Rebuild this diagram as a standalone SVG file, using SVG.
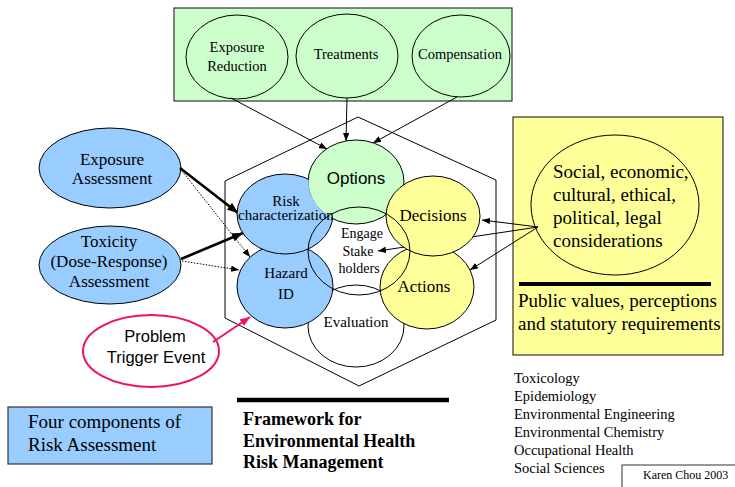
<svg xmlns="http://www.w3.org/2000/svg" width="735" height="487" viewBox="0 0 735 487">
<style>
.s{font-family:"Liberation Serif","Times New Roman",serif;fill:#000}
.a{font-family:"Liberation Sans",Arial,sans-serif;fill:#000}
.m{text-anchor:middle}
.ol{stroke:#000;stroke-width:1}
.box{stroke:#333;stroke-width:1.2}
.ln{stroke:#000;stroke-width:1;fill:none}
.thk{stroke:#000;stroke-width:2.6;fill:none}
.dot{stroke:#000;stroke-width:1;stroke-dasharray:1.5 1.5;fill:none}
.blue{fill:#99ccff}
.green{fill:#ccffcc}
.yel{fill:#ffff99}
</style>
<defs>
<marker id="ah" viewBox="0 0 10 8" refX="10" refY="4" markerWidth="8" markerHeight="6.4" markerUnits="userSpaceOnUse" orient="auto"><path d="M0,0 L10,4 L0,8 z" fill="#000"/></marker>
<marker id="ahb" viewBox="0 0 10 8" refX="10" refY="4" markerWidth="11" markerHeight="8.8" markerUnits="userSpaceOnUse" orient="auto"><path d="M0,0 L10,4 L0,8 z" fill="#000"/></marker>
<marker id="ahp" viewBox="0 0 10 8" refX="10" refY="4" markerWidth="10" markerHeight="8" markerUnits="userSpaceOnUse" orient="auto"><path d="M0,0 L10,4 L0,8 z" fill="#ee1166"/></marker>
<mask id="notOptions" maskUnits="userSpaceOnUse" x="0" y="0" width="735" height="487">
<rect x="0" y="0" width="735" height="487" fill="#fff"/>
<ellipse cx="356" cy="182" rx="47.4" ry="41.4" fill="#000"/>
</mask>
</defs>
<rect width="735" height="487" fill="#fff"/>

<g id="options-box">
<rect class="green box" x="174" y="8" width="338" height="93"/>
<g id="exposure-reduction">
<ellipse class="green ol" cx="237" cy="57" rx="51" ry="42"/>
<text class="s m" x="237" y="52" font-size="14.5">Exposure</text>
<text class="s m" x="237" y="71" font-size="14.5">Reduction</text>
</g>
<g id="treatments">
<ellipse class="green ol" cx="347" cy="56" rx="51" ry="42"/>
<text class="s m" x="346" y="59" font-size="14.5">Treatments</text>
</g>
<g id="compensation">
<ellipse class="green ol" cx="461" cy="56" rx="49" ry="41"/>
<text class="s m" x="460" y="59" font-size="14.5">Compensation</text>
</g>
</g>

<g id="public-values">
<rect class="yel box" x="513" y="117" width="210" height="238"/>
<g id="considerations">
<ellipse class="yel ol" cx="615" cy="205" rx="84" ry="70"/>
<text class="s" x="553" y="178" font-size="19">Social, economic,</text>
<text class="s" x="553" y="201" font-size="19">cultural, ethical,</text>
<text class="s" x="553" y="224" font-size="19">political, legal</text>
<text class="s" x="553" y="247" font-size="19">considerations</text>
</g>
<line x1="519" y1="284" x2="711" y2="284" stroke="#000" stroke-width="4"/>
<text class="s" x="518" y="307" font-size="19">Public values, perceptions</text>
<text class="s" x="518" y="330" font-size="19">and statutory requirements</text>
</g>

<g id="exposure-assessment">
<ellipse class="blue ol" cx="110" cy="168" rx="71" ry="40"/>
<text class="s m" x="112" y="165" font-size="17">Exposure</text>
<text class="s m" x="112" y="184" font-size="17">Assessment</text>
</g>
<g id="toxicity-assessment">
<ellipse class="blue ol" cx="110" cy="265" rx="71" ry="39"/>
<text class="s m" x="109" y="247" font-size="17">Toxicity</text>
<text class="s m" x="109" y="267" font-size="17">(Dose-Response)</text>
<text class="s m" x="109" y="287" font-size="17">Assessment</text>
</g>
<g id="problem-trigger">
<ellipse cx="151" cy="351" rx="68" ry="36" fill="#fff" stroke="#ee1166" stroke-width="2"/>
<text class="a m" x="155" y="342" font-size="16.5">Problem</text>
<text class="a m" x="156" y="363" font-size="16.5">Trigger Event</text>
</g>

<g id="four-components">
<rect class="blue box" x="8" y="407" width="204" height="57"/>
<text class="s" x="28" y="428" font-size="19">Four components of</text>
<text class="s" x="28" y="451" font-size="19">Risk Assessment</text>
</g>

<g id="title">
<line x1="237" y1="400" x2="449" y2="400" stroke="#000" stroke-width="4.5"/>
<text class="s" x="243" y="425" font-size="18" font-weight="bold">Framework for</text>
<text class="s" x="243" y="447" font-size="18" font-weight="bold">Environmental Health</text>
<text class="s" x="243" y="468" font-size="18" font-weight="bold">Risk Management</text>
</g>

<g id="disciplines">
<text class="s" x="514" y="383" font-size="14.5">Toxicology</text>
<text class="s" x="514" y="401" font-size="14.5">Epidemiology</text>
<text class="s" x="514" y="419" font-size="14.5">Environmental Engineering</text>
<text class="s" x="514" y="437" font-size="14.5">Environmental Chemistry</text>
<text class="s" x="514" y="455" font-size="14.5">Occupational Health</text>
<text class="s" x="514" y="473" font-size="14.5">Social Sciences</text>
</g>

<g id="credit">
<rect x="622" y="465" width="120" height="30" fill="none" stroke="#333" stroke-width="1"/>
<text class="s" x="643" y="479" font-size="12">Karen Chou 2003</text>
</g>

<g id="hexagon">
<polygon points="358,117 496,180 496,320 359,386 225,318 225,181" fill="none" stroke="#000" stroke-width="1"/>
</g>

<g id="connectors">
<line class="ln" x1="231" y1="98" x2="327" y2="149" marker-end="url(#ah)"/>
<line class="ln" x1="347" y1="98" x2="346" y2="141" marker-end="url(#ah)"/>
<line class="ln" x1="457" y1="97" x2="373" y2="143" marker-end="url(#ah)"/>
<line class="thk" x1="180" y1="168" x2="238" y2="213" marker-end="url(#ahb)"/>
<line class="thk" x1="181" y1="259" x2="243" y2="233" marker-end="url(#ahb)"/>
<line class="dot" x1="182" y1="171" x2="250" y2="257" marker-end="url(#ah)"/>
<line class="dot" x1="182" y1="261" x2="239" y2="270" marker-end="url(#ah)"/>
<line x1="213" y1="342" x2="250" y2="317" stroke="#ee1166" stroke-width="2" marker-end="url(#ahp)"/>
<line class="ln" x1="538" y1="227" x2="482" y2="220" marker-end="url(#ah)"/>
<line class="ln" x1="538" y1="227" x2="378" y2="251" marker-end="url(#ah)"/>
<line class="ln" x1="538" y1="227" x2="470" y2="270" marker-end="url(#ah)"/>
</g>

<g id="evaluation">
<ellipse class="ol" fill="#fff" cx="356" cy="326" rx="48" ry="41"/>
<text class="s m" x="356" y="327" font-size="15">Evaluation</text>
</g>
<g id="hazard-id">
<ellipse class="blue ol" cx="285" cy="286" rx="48" ry="42"/>
<text class="s m" x="286" y="278" font-size="15">Hazard</text>
<text class="s m" x="286" y="299" font-size="15">ID</text>
</g>
<g id="actions">
<ellipse class="yel ol" cx="427" cy="287" rx="47" ry="42"/>
<text class="s m" x="424" y="292" font-size="17">Actions</text>
</g>
<g id="options">
<ellipse class="green ol" cx="356" cy="182" rx="48" ry="42"/>
<text class="a m" x="356" y="184" font-size="17">Options</text>
</g>
<g id="risk-characterization">
<ellipse class="blue ol" cx="285" cy="214" rx="48" ry="40" mask="url(#notOptions)"/>
<text class="s m" x="286" y="206" font-size="15">Risk</text>
<text class="s m" x="286" y="220" font-size="15">characterization</text>
</g>
<g id="decisions">
<ellipse class="yel ol" cx="433" cy="216" rx="47" ry="40"/>
<text class="s m" x="433" y="221" font-size="17">Decisions</text>
</g>
<g id="engage-stakeholders">
<ellipse class="ol" fill="none" cx="359" cy="251" rx="51" ry="44"/>
<text class="s m" x="362" y="238" font-size="14">Engage</text>
<text class="s m" x="358" y="256" font-size="14">Stake</text>
<text class="s m" x="359" y="273" font-size="14">holders</text>
</g>
</svg>
